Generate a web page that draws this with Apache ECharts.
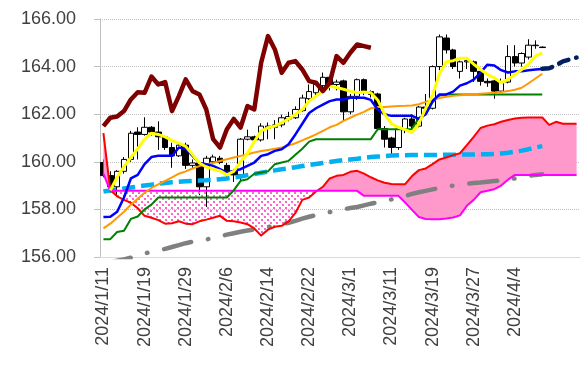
<!DOCTYPE html>
<html><head><meta charset="utf-8">
<script src="https://cdn.jsdelivr.net/npm/echarts/dist/echarts.min.js"></script>
<style>html,body{margin:0;padding:0;background:#fff;}#c{width:583px;height:372px;}</style>
</head><body><div id="c"></div>
<script>
const dates = ['2024/1/11','2024/1/12','2024/1/15','2024/1/16','2024/1/17','2024/1/18','2024/1/19','2024/1/22','2024/1/23','2024/1/24',
'2024/1/25','2024/1/26','2024/1/29','2024/1/30','2024/1/31','2024/2/1','2024/2/2','2024/2/5','2024/2/6','2024/2/7',
'2024/2/8','2024/2/9','2024/2/12','2024/2/13','2024/2/14','2024/2/15','2024/2/16','2024/2/19','2024/2/20','2024/2/21',
'2024/2/22','2024/2/23','2024/2/26','2024/2/27','2024/2/28','2024/2/29','2024/3/1','2024/3/4','2024/3/5','2024/3/6',
'2024/3/7','2024/3/8','2024/3/11','2024/3/12','2024/3/13','2024/3/14','2024/3/15','2024/3/18','2024/3/19','2024/3/20',
'2024/3/21','2024/3/22','2024/3/25','2024/3/26','2024/3/27','2024/3/28','2024/3/29','2024/4/1','2024/4/2','2024/4/3',
'2024/4/4','2024/4/5','2024/4/8','2024/4/9','2024/4/10','','','','',''];

const openV = [159.97,159.42,158.95,159.6,160.1,161.25,161.15,161.45,161.25,161.05,
160.6,160.25,160.7,159.85,159.95,158.95,160.0,160.15,159.85,159.6,
159.45,160.95,161.05,160.92,161.4,161.45,161.55,161.8,161.85,162.15,
162.65,162.9,163.2,163.55,163.25,163.4,162.1,162.75,163.45,162.95,
162.85,161.4,161.0,160.6,161.37,161.8,161.5,162.3,162.25,164.0,
165.2,164.7,163.8,164.2,164.2,163.8,163.38,163.4,162.97,163.35,
164.42,164.15,164.4,164.88,164.82];
const closeV = [159.42,158.95,159.6,160.1,161.2,161.15,161.45,161.25,161.05,160.6,
160.25,160.7,159.85,159.95,158.95,160.15,160.2,159.97,159.6,159.45,
160.95,161.05,160.92,161.5,161.5,161.55,161.85,161.9,162.2,162.68,
162.95,163.25,163.55,163.25,163.35,162.1,162.75,163.45,162.95,162.83,
161.4,160.95,160.6,161.37,161.8,161.5,162.3,162.25,164.0,165.25,
164.7,164.0,164.2,164.25,163.8,163.38,163.32,162.97,163.35,164.42,
164.15,164.55,164.9,164.9,164.8];
const lowV = [159.35,158.7,158.6,159.5,160.0,160.1,161.1,161.1,160.5,160.5,
159.75,160.2,159.7,159.7,158.6,158.1,159.9,159.9,159.3,159.15,
159.2,160.9,160.85,160.85,160.95,160.95,161.45,161.7,161.8,162.1,
162.5,162.8,163.1,163.0,163.0,161.7,162.0,162.6,162.8,162.7,
161.3,160.6,160.25,160.5,161.2,161.4,161.45,162.1,162.2,163.85,
164.55,163.9,163.5,163.9,163.35,163.2,163.15,162.65,162.9,163.3,
164.0,164.0,164.3,164.75,164.78];
const highV = [160.1,159.6,159.65,160.2,161.3,161.45,161.87,161.5,161.7,161.1,
160.8,160.75,160.8,160.1,160.0,160.25,160.3,160.25,159.95,159.7,
161.0,161.35,161.1,161.62,161.65,161.75,161.98,162.1,162.33,162.82,
163.25,163.3,163.75,163.6,163.45,163.45,162.85,163.5,163.5,163.0,
162.9,161.5,161.05,161.4,161.85,162.0,162.35,162.85,164.05,165.35,
165.35,164.75,164.25,164.35,164.25,163.85,163.5,163.45,163.5,164.9,
164.9,164.6,165.15,165.1,164.85];

const lagging = [161.5,161.85,161.9,162.13,162.62,162.92,162.9,163.58,163.25,163.35,
162.13,162.76,163.46,162.97,162.83,162.2,160.95,160.6,161.37,161.8,
161.44,162.34,162.2,164.16,165.28,164.72,163.74,164.16,164.23,163.88,
163.39,163.32,162.97,163.32,164.44,164.16,164.58,164.93,164.86,164.79];

const yellowV = [null,158.8,159.35,159.8,160.18,160.55,160.95,161.2,161.15,161.05,
160.9,160.78,160.65,160.3,159.95,159.78,159.7,159.62,159.45,159.6,
160.0,160.35,160.85,161.3,161.43,161.5,161.65,161.8,162.0,162.2,
162.55,162.76,162.97,163.18,163.12,163.05,162.97,162.9,162.93,162.9,
162.6,162.0,161.6,161.45,161.35,161.23,161.6,162.25,162.8,163.7,
164.2,164.25,164.35,164.35,164.1,163.88,163.67,163.53,163.32,163.46,
163.67,163.88,164.1,164.44,164.58];

const blueV = [157.68,157.69,157.9,158.5,159.3,159.45,159.9,160.2,160.25,160.25,
160.25,160.6,160.55,160.25,159.95,159.9,159.83,159.69,159.55,159.62,
159.69,159.83,159.97,160.25,160.32,160.46,160.53,160.74,161.15,161.6,
162.05,162.25,162.4,162.55,162.62,162.62,162.69,162.69,162.69,162.6,
162.2,162.0,161.93,161.93,161.93,161.93,161.8,162.0,162.55,162.83,
162.83,162.95,163.2,163.3,163.45,163.75,164.08,164.05,163.85,163.75,
163.8,163.8,163.85,163.88,163.9];

const orangeV = [157.2,157.4,157.65,157.9,158.2,158.45,158.7,158.9,159.05,159.2,
159.35,159.5,159.6,159.72,159.82,159.9,159.95,160.03,160.11,160.18,
160.25,160.32,160.39,160.45,160.5,160.55,160.6,160.68,160.78,160.9,
161.02,161.15,161.3,161.45,161.55,161.72,161.85,161.98,162.1,162.25,
162.3,162.3,162.32,162.34,162.35,162.37,162.42,162.52,162.6,162.68,
162.73,162.77,162.8,162.82,162.84,162.86,162.88,162.9,162.93,162.97,
163.03,163.11,163.3,163.5,163.7];

const greenV = [156.75,156.75,157.05,157.1,157.6,157.7,158.0,158.2,158.5,158.5,
158.5,158.5,158.5,158.5,158.5,158.5,158.5,158.5,158.5,158.8,
159.2,159.27,159.5,159.55,159.6,159.9,159.97,160.04,160.3,160.55,
160.85,160.95,160.95,160.95,160.95,160.95,160.95,160.95,160.95,160.95,
161.37,161.37,161.37,161.37,161.37,161.37,161.85,162.0,162.5,162.78,
162.83,162.83,162.83,162.83,162.83,162.83,162.83,162.83,162.83,162.83,
162.83,162.83,162.83,162.83,162.83];

const cyanV = [158.75,158.8,158.84,158.88,158.92,158.96,159.0,159.04,159.08,159.11,
159.14,159.16,159.18,159.2,159.21,159.22,159.24,159.27,159.3,159.34,
159.38,159.44,159.49,159.54,159.59,159.64,159.69,159.73,159.77,159.82,
159.87,159.91,159.95,159.99,160.03,160.07,160.1,160.13,160.17,160.2,
160.22,160.24,160.26,160.28,160.28,160.29,160.29,160.29,160.29,160.29,
160.3,160.3,160.3,160.31,160.31,160.32,160.32,160.33,160.35,160.38,
160.42,160.47,160.53,160.6,160.66];

const grayV = [155.7,155.77,155.84,155.9,155.97,156.05,156.15,156.22,156.28,156.34,
156.42,156.5,156.58,156.64,156.69,156.74,156.79,156.87,156.94,157.0,
157.06,157.11,157.16,157.21,157.26,157.31,157.38,157.44,157.52,157.61,
157.69,157.76,157.83,157.89,157.94,158.0,158.06,158.1,158.17,158.24,
158.3,158.36,158.42,158.48,158.56,158.65,158.72,158.78,158.84,158.9,
158.95,159.0,159.05,159.08,159.11,159.13,159.16,159.19,159.22,159.26,
159.3,159.36,159.41,159.45,159.48];

const spanA = [161.2,158.8,158.55,158.4,158.28,158.05,157.73,157.65,157.55,157.4,
157.42,157.5,157.4,157.38,157.5,157.57,157.65,157.73,157.52,157.5,
157.45,157.38,157.2,156.9,157.15,157.27,157.31,157.5,157.85,158.4,
158.5,158.75,158.95,159.3,159.41,159.45,159.58,159.62,159.5,159.35,
159.22,159.12,159.07,159.06,159.06,159.4,159.65,159.72,159.9,160.1,
160.18,160.28,160.36,160.7,161.05,161.42,161.52,161.58,161.68,161.76,
161.82,161.85,161.86,161.86,161.86,161.55,161.68,161.6,161.6,161.6];

const spanB = [159.5,158.78,158.78,158.78,158.78,158.78,158.78,158.78,158.78,158.78,
158.78,158.78,158.78,158.78,158.78,158.78,158.78,158.78,158.78,158.78,
158.78,158.78,158.78,158.78,158.78,158.78,158.78,158.78,158.78,158.78,
158.78,158.78,158.78,158.78,158.78,158.78,158.78,158.78,158.57,158.57,
158.57,158.57,158.57,158.57,158.29,157.98,157.68,157.6,157.59,157.59,
157.62,157.66,157.75,158.15,158.4,158.72,158.78,158.85,159.0,159.25,
159.45,159.45,159.45,159.45,159.45,159.45,159.45,159.45,159.45,159.45];

const navyV = [null,null,null,null,null,null,null,null,null,null,
null,null,null,null,null,null,null,null,null,null,
null,null,null,null,null,null,null,null,null,null,
null,null,null,null,null,null,null,null,null,null,
null,null,null,null,null,null,null,null,null,null,
null,null,null,null,null,null,null,null,null,null,
null,null,null,null,163.91,163.93,164.05,164.22,164.3,164.38];

const yTicks = [156,158,160,162,164,166];

// derived
const candleData = openV.map((o,i)=>[o, closeV[i], lowV[i], highV[i]]);
const lo = spanA.map((a,i)=>Math.min(a, spanB[i]));
const bull = spanA.map((a,i)=>Math.max(a - spanB[i], 0));
const bear = spanA.map((a,i)=>Math.max(spanB[i] - a, 0));

const pc = document.createElement('canvas');
pc.width = 6; pc.height = 6;
const pctx = pc.getContext('2d');
pctx.fillStyle = '#FF66CC';
pctx.fillRect(0,0,2,2);
pctx.fillRect(3,3,2,2);

function ln(data, color, width, extra){
  return Object.assign({type:'line', data:data, symbol:'none', silent:true,
    lineStyle:{color:color, width:width, join:'round'}}, extra||{});
}

const chart = echarts.init(document.getElementById('c'));
chart.setOption({
  animation:false,
  backgroundColor:'#ffffff',
  grid:{left:100, right:3, top:19, bottom:115},
  xAxis:{type:'category', data:dates, boundaryGap:true,
    axisLine:{show:true, lineStyle:{color:'#d9d9d9', width:1}},
    axisTick:{show:false},
    axisLabel:{interval:5, rotate:90, margin:10, fontSize:18, color:'#404040', fontFamily:'Liberation Sans, Arial, sans-serif'},
    splitLine:{show:false}},
  yAxis:{type:'value', min:yTicks[0], max:yTicks[yTicks.length-1], interval:2,
    axisLine:{show:true, lineStyle:{color:'#bfbfbf'}},
    axisTick:{show:true, length:6, lineStyle:{color:'#bfbfbf'}},
    axisLabel:{margin:24, fontSize:18, color:'#404040', fontFamily:'Liberation Sans, Arial, sans-serif',
      formatter:(v)=>v.toFixed(2)},
    splitLine:{show:true, lineStyle:{color:'#bfbfbf', type:'dotted', width:1}}},
  series:[
    ln(lo, '#000', 0, {stack:'bull', lineStyle:{opacity:0, width:0}}),
    ln(bull, '#000', 0, {stack:'bull', lineStyle:{opacity:0, width:0}, areaStyle:{color:'#FF99CC', opacity:1}}),
    ln(lo, '#000', 0, {stack:'bear', lineStyle:{opacity:0, width:0}}),
    ln(bear, '#000', 0, {stack:'bear', lineStyle:{opacity:0, width:0}, areaStyle:{color:{image:pc, repeat:'repeat'}, opacity:1}}),
    {type:'candlestick', data:candleData, barWidth:6, silent:true,
      itemStyle:{color:'#ffffff', color0:'#000000', borderColor:'#000000', borderColor0:'#000000', borderWidth:1}},
    ln(grayV, '#808080', 4.5, {lineStyle:{color:'#808080', width:4.5, type:[28,17,0.5,17], cap:'round'}}),
    ln(cyanV, '#00B0F0', 4.5, {lineStyle:{color:'#00B0F0', width:4.5, type:[13,6]}}),
    ln(spanA, '#FF0000', 2),
    ln(spanB, '#FF00FF', 2),
    ln(greenV, '#008000', 2),
    ln(orangeV, '#FF9900', 2),
    ln(blueV, '#0000FF', 2.5),
    ln(yellowV, '#FFFF00', 3),
    ln(navyV, '#002060', 4.5, {lineStyle:{color:'#002060', width:4.5, type:[10,8], cap:'round'}}),
    ln(lagging, '#7F0000', 4.5)
  ]
});
</script></body></html>
